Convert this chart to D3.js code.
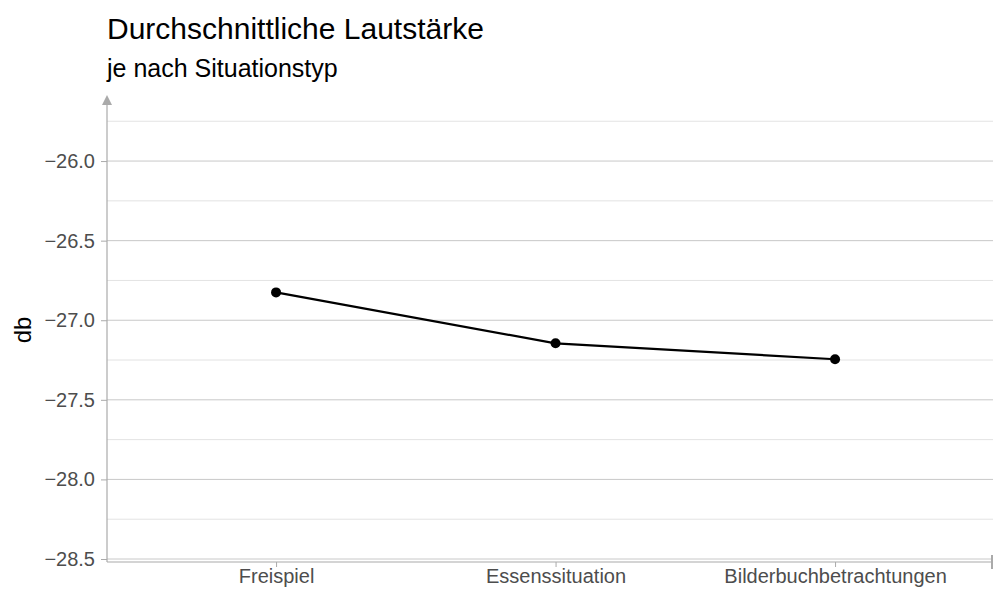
<!DOCTYPE html>
<html>
<head>
<meta charset="utf-8">
<script src="https://cdn.jsdelivr.net/npm/d3@7"></script>
<style>
  body { margin: 0; background: #fff; }
  svg { font-family: "Liberation Sans", Arial, sans-serif; }
</style>
</head>
<body>
<div class="chart-container"></div>
<script>
var situations = ['Freispiel', 'Essenssituation', 'Bilderbuchbetrachtungen'];
var meanDb = [-26.825, -27.145, -27.245];
var yTicks = [-28.5, -28.0, -27.5, -27.0, -26.5, -26.0];
var yMinor = [-28.25, -27.75, -27.25, -26.75, -26.25, -25.75];

var width = 994;
var height = 592;
var margin = {top: 95, right: 1, bottom: 33, left: 107};

var data = situations.map((s, i) => ({situation: s, value: meanDb[i]}));

var x = d3.scalePoint()
  .domain(situations)
  .range([margin.left, width - margin.right])
  .padding(0.585)
  .align(0.517);

var y = d3.scaleLinear()
  .domain([-28.5, -25.585])
  .range([559, margin.top]);

var svg = d3.select('.chart-container').append('svg')
  .attr('width', width)
  .attr('height', height);

// minor grid
svg.append('g').selectAll('line')
  .data(yMinor)
  .enter().append('line')
    .attr('x1', margin.left)
    .attr('x2', width - margin.right)
    .attr('y1', d => y(d))
    .attr('y2', d => y(d))
    .style('stroke', '#e3e3e3')
    .style('stroke-width', 1);

// major grid
svg.append('g').selectAll('line')
  .data(yTicks)
  .enter().append('line')
    .attr('x1', margin.left)
    .attr('x2', width - margin.right)
    .attr('y1', d => y(d))
    .attr('y2', d => y(d))
    .style('stroke', '#c8c8c8')
    .style('stroke-width', 1);

var yAxis = d3.axisLeft(y)
  .tickValues(yTicks)
  .tickFormat(d => d3.format('.1f')(d).replace('-', '\u2212'))
  .tickSize(6)
  .tickPadding(6)
  .tickSizeOuter(0);

var gY = svg.append('g')
  .attr('transform', `translate(${margin.left},0)`)
  .call(yAxis);
gY.select('.domain').remove();
gY.selectAll('.tick line').style('stroke', '#aaa');
gY.selectAll('.tick text').style('fill', '#4d4d4d').style('font-size', '20px');

// y axis line with arrow
svg.append('line')
  .attr('x1', margin.left).attr('x2', margin.left)
  .attr('y1', 562).attr('y2', 104)
  .style('stroke', '#aaa').style('stroke-width', 1.2);
svg.append('path')
  .attr('d', `M${margin.left - 5},${105} L${margin.left + 5},${105} L${margin.left},${95} Z`)
  .style('fill', '#aaa');

var xAxis = d3.axisBottom(x)
  .tickSize(5)
  .tickPadding(2)
  .tickSizeOuter(0);

var gX = svg.append('g')
  .attr('transform', 'translate(0,562)')
  .call(xAxis);
gX.select('.domain').remove();
gX.selectAll('.tick line').style('stroke', '#aaa');
gX.selectAll('.tick text').style('fill', '#4d4d4d').style('font-size', '20px');

svg.append('line')
  .attr('x1', margin.left).attr('x2', width - margin.right)
  .attr('y1', 562).attr('y2', 562)
  .style('stroke', '#aaa').style('stroke-width', 1.2);
svg.append('line')
  .attr('x1', width - margin.right - 1).attr('x2', width - margin.right - 1)
  .attr('y1', 555).attr('y2', 569)
  .style('stroke', '#aaa').style('stroke-width', 2);

var line = d3.line()
  .x(d => x(d.situation))
  .y(d => y(d.value));

svg.append('path')
  .datum(data)
  .attr('d', line)
  .style('fill', 'none')
  .style('stroke', '#000')
  .style('stroke-width', 2.2);

svg.selectAll('.point')
  .data(data)
  .enter().append('circle')
    .attr('class', 'point')
    .attr('cx', d => x(d.situation))
    .attr('cy', d => y(d.value))
    .attr('r', 5)
    .style('fill', '#000');

svg.append('text')
  .attr('x', 107).attr('y', 39)
  .style('font-size', '30px')
  .text('Durchschnittliche Lautstärke');

svg.append('text')
  .attr('x', 107).attr('y', 77)
  .style('font-size', '25px')
  .text('je nach Situationstyp');

svg.append('text')
  .attr('transform', 'translate(31,330) rotate(-90)')
  .attr('text-anchor', 'middle')
  .style('font-size', '24px')
  .text('db');
</script>
</body>
</html>
